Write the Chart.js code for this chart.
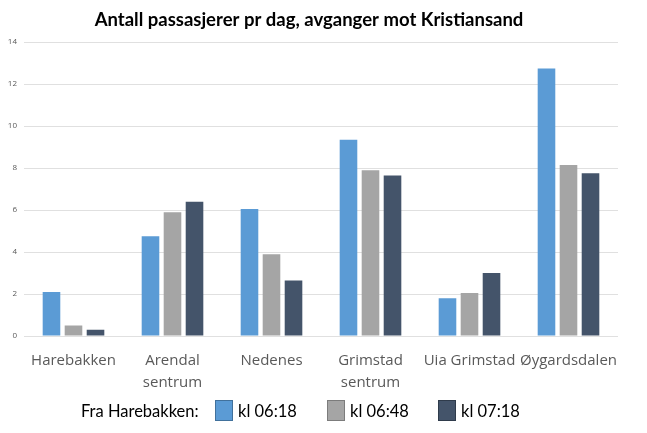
<!DOCTYPE html>
<html>
<head>
<meta charset="utf-8">
<script src="https://cdn.jsdelivr.net/npm/chart.js@4"></script>
<style>
html,body{margin:0;padding:0;background:#fff;}
#wrap{width:647px;height:433px;position:relative;}
</style>
</head>
<body>
<div id="wrap"><canvas id="c" width="647" height="433"></canvas></div>
<script>
const categories = [["Harebakken"], ["Arendal", "sentrum"], ["Nedenes"], ["Grimstad", "sentrum"], ["Uia Grimstad"], ["Øygardsdalen"]];
const seriesNames = ["kl 06:18", "kl 06:48", "kl 07:18"];
const kl0618 = [2.1, 4.75, 6.05, 9.35, 1.8, 12.75];
const kl0648 = [0.5, 5.9, 3.9, 7.9, 2.05, 8.15];
const kl0718 = [0.3, 6.4, 2.65, 7.65, 3.0, 7.75];
const yTicks = [0, 2, 4, 6, 8, 10, 12, 14];
const legendPrefix = "Fra Harebakken:";
const titleText = "Antall passasjerer pr dag, avganger mot Kristiansand";

const colors = ["#5B9BD5", "#A5A5A5", "#44546A"];
const borders = ["#41719C", "#7C7C7C", "#2F3B4B"];

const legendPlugin = {
  id: 'customLegend',
  afterDraw(chart) {
    const ctx = chart.ctx;
    ctx.save();
    ctx.font = '16.5px Lato';
    ctx.fillStyle = '#000';
    ctx.textBaseline = 'middle';
    ctx.textAlign = 'left';
    const y = 412;
    ctx.fillText(legendPrefix, 81, y);
    const boxX = [215, 327, 438];
    chart.data.datasets.forEach((ds, i) => {
      ctx.fillStyle = ds.backgroundColor;
      ctx.strokeStyle = borders[i];
      ctx.lineWidth = 1;
      ctx.fillRect(boxX[i] + 0.5, 400.5, 17, 20);
      ctx.strokeRect(boxX[i] + 0.5, 400.5, 17, 20);
      ctx.fillStyle = '#000';
      ctx.fillText(ds.label, boxX[i] + 23, y);
    });
    ctx.restore();
  }
};

new Chart(document.getElementById('c'), {
  type: 'bar',
  data: {
    labels: categories,
    datasets: [
      { label: seriesNames[0], data: kl0618, backgroundColor: colors[0] },
      { label: seriesNames[1], data: kl0648, backgroundColor: colors[1] },
      { label: seriesNames[2], data: kl0718, backgroundColor: colors[2] }
    ]
  },
  options: {
    responsive: false,
    animation: false,
    devicePixelRatio: 1,
    layout: { padding: { left: 0, right: 29, top: 0, bottom: 0 } },
    categoryPercentage: 0.667,
    barPercentage: 0.8,
    plugins: {
      legend: { display: false },
      tooltip: { enabled: false },
      title: {
        display: true,
        text: titleText,
        color: '#000',
        font: { family: 'Lato', size: 18.5, weight: 'bold' },
        padding: { top: 9, bottom: 11 }
      }
    },
    scales: {
      x: {
        grid: { display: false },
        border: { display: false },
        ticks: {
          color: '#595959',
          font: { family: 'Open Sans', size: 15, lineHeight: 1.47 },
          maxRotation: 0,
          autoSkip: false,
          padding: 6
        },
        afterFit(s) { s.height = 97; }
      },
      y: {
        min: 0, max: 14,
        afterBuildTicks(s) { s.ticks = yTicks.map(v => ({ value: v })); },
        grid: { color: '#E0E0E0', lineWidth: 1, drawTicks: false },
        border: { display: false },
        ticks: {
          color: '#595959',
          font: { family: 'Open Sans', size: 8 },
          padding: 7
        },
        afterFit(s) { s.width = 24; }
      }
    }
  },
  plugins: [legendPlugin]
});
</script>
</body>
</html>
